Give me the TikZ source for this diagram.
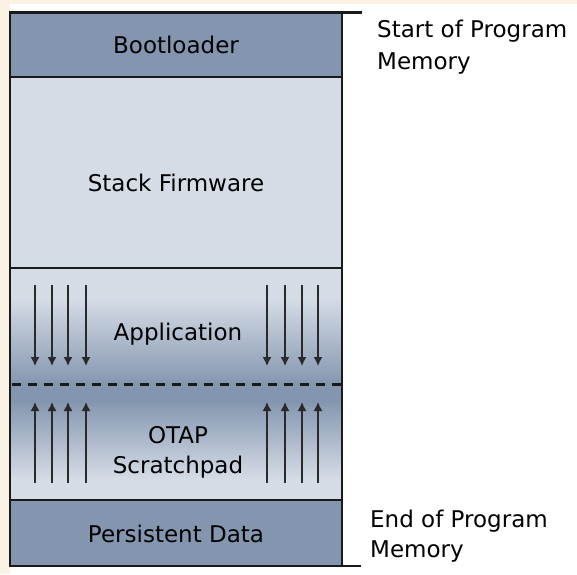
\documentclass[tikz,border=0pt]{standalone}
\usepackage{fontspec}
\setmainfont{DejaVu Sans}
\usetikzlibrary{arrows.meta}
\definecolor{memdark}{HTML}{8496AF}
\definecolor{memlight}{HTML}{D5DCE6}
\definecolor{cream}{HTML}{FBF2E6}
\definecolor{edge}{HTML}{1A1A1A}
\definecolor{arrowc}{HTML}{2A2A2A}
\pgfdeclareverticalshading{appshade}{100bp}{color(0bp)=(memdark); color(25bp)=(memdark); color(62bp)=(memlight); color(100bp)=(memlight)}
\pgfdeclareverticalshading{otapshade}{100bp}{color(0bp)=(memlight); color(34bp)=(memlight); color(68bp)=(memdark); color(100bp)=(memdark)}
\tikzset{
  lbl/.style={font=\fontsize{23}{29}\selectfont, anchor=base, inner sep=0pt},
  side/.style={font=\fontsize{23}{29}\selectfont, anchor=base west, inner sep=0pt},
  flow/.style={draw=arrowc, line width=1.5pt, -{Latex[length=9pt,width=9pt]}},
  border/.style={draw=edge, line width=2.4pt},
}
\begin{document}
\begin{tikzpicture}[x=1pt,y=-1pt]
  \fill[cream] (0,0) rectangle (577,574);
  \fill[white] (9.5,3.5) rectangle (577,574);
  \useasboundingbox (0,0) rectangle (577,574);
  % layers
  \fill[memdark] (10,12.5) rectangle (342,77);
  \fill[memlight] (10,77) rectangle (342,268);
  \fill[shading=appshade] (10,268) rectangle (342,384.5);
  \fill[shading=otapshade] (10,384.5) rectangle (342,500);
  \fill[memdark] (10,500) rectangle (342,566);
  % arrows
  \foreach \x in {35,52,68,86,267,285,302,318} {
    \draw[flow] (\x,285) -- (\x,366);
    \draw[flow] (\x,483) -- (\x,402);
  }
  % borders
  \draw[border] (10,12.5) rectangle (342,566);
  \draw[border] (10,77) -- (342,77);
  \draw[border] (10,268) -- (342,268);
  \draw[border] (10,500) -- (342,500);
  \draw[border] (342,12.5) -- (362,12.5);
  \draw[border] (342,566) -- (361,566);
  \draw[edge, line width=2.2pt, dash pattern=on 9pt off 7pt] (12,384.5) -- (342,384.5);
  % labels
  \node[lbl] (boot) at (176,53) {Bootloader};
  \node[lbl] (stack) at (176,191) {Stack Firmware};
  \node[lbl] (app) at (178,340) {Application};
  \node[lbl] (otap) at (178,443) {OTAP};
  \node[lbl] (scratch) at (178,473) {Scratchpad};
  \node[lbl] (persist) at (176,542) {Persistent Data};
  \node[side] (start1) at (377,37) {Start of Program};
  \node[side] (start2) at (377,69) {Memory};
  \node[side] (end1) at (370,527) {End of Program};
  \node[side] (end2) at (370,557) {Memory};
\end{tikzpicture}
\end{document}
